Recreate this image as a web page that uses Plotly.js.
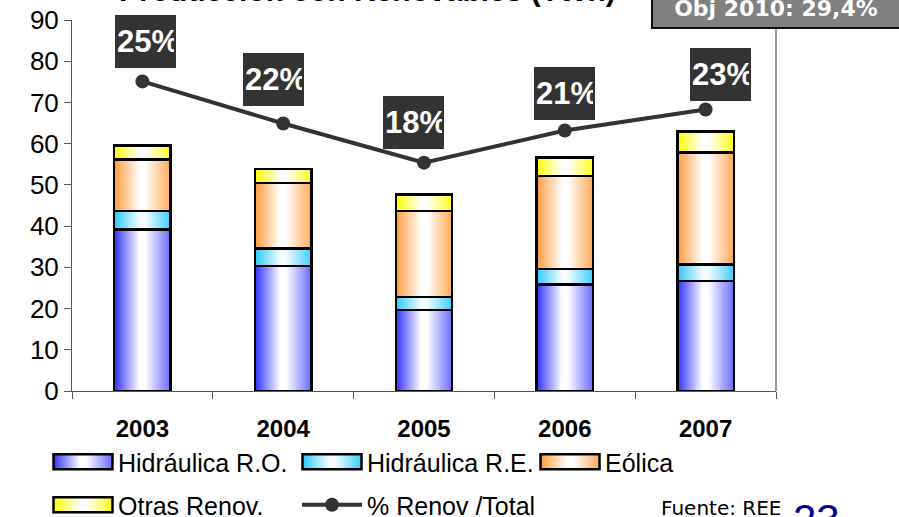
<!DOCTYPE html>
<html>
<head>
<meta charset="utf-8">
<script src="https://cdn.plot.ly/plotly-3.0.1.min.js"></script>
<style>
  body { margin: 0; background: #fff; }
  #chart { width: 899px; height: 517px; }
</style>
</head>
<body>
<div id="chart"></div>
<script>
// years on the x axis
let years = ["2003", "2004", "2005", "2006", "2007"];

// stacked series (TWh)
let hidroRO = [39.2, 30.3, 19.6, 25.8, 26.7];
let hidroRE = [4.5, 4.3, 3.2, 3.8, 4.0];
let eolica = [12.5, 15.9, 20.9, 22.5, 27.2];
let otras = [3.4, 3.4, 4.0, 4.6, 5.0];

// line series, drawn on the same 0-90 scale
let renovTotal = [75.1, 64.9, 55.4, 63.2, 68.3];
let renovPct = ["25%", "22%", "18%", "21%", "23%"];

// y axis ticks
let yTicks = [0, 10, 20, 30, 40, 50, 60, 70, 80, 90];

// gradient colours for each bar series: left edge, centre, right edge
let gradients = [
    ["#2f2fff", "#ffffff", "#6a6aff"],
    ["#2ec8ff", "#f4fcff", "#3ccfff"],
    ["#ff9a3c", "#ffffff", "#ffa95a"],
    ["#ffff00", "#ffffff", "#ffff20"]
];

// helper for one stacked bar trace
function barTrace(name, values, legend)
{
    return {
        x: years,
        y: values,
        name: name,
        type: "bar",
        width: 0.4,
        legend: legend,
        marker: { color: "#cccccc", line: { color: "#000000", width: 2.5 } },
        hoverinfo: "skip"
    };
}

let traces = [
    barTrace("Hidráulica R.O.", hidroRO, "legend"),
    barTrace("Hidráulica R.E.", hidroRE, "legend"),
    barTrace("Eólica", eolica, "legend3"),
    barTrace("Otras Renov.", otras, "legend2"),
    {
        x: years,
        y: renovTotal,
        name: "% Renov /Total",
        type: "scatter",
        mode: "lines+markers",
        legend: "legend2",
        line: { color: "#333333", width: 4 },
        marker: { color: "#333333", size: 14 },
        hoverinfo: "skip"
    }
];

// offsets of the dark percentage boxes from their points (px)
let boxShift = [[3, 40], [-10, 44], [-11, 40], [0, 37], [15, 35]];

// category axis: annotations use the category index
let pctBoxes = years.map((yr, i) => ({
    x: i,
    y: renovTotal[i],
    xref: "x",
    yref: "y",
    text: "<b>" + renovPct[i] + "</b>",
    showarrow: false,
    xshift: boxShift[i][0],
    yshift: boxShift[i][1],
    width: 57,
    height: 49,
    align: "left",
    valign: "middle",
    bgcolor: "#333333",
    borderwidth: 0,
    borderpad: 2,
    font: { family: "Liberation Sans, Arial, sans-serif", size: 31, color: "#ffffff" }
}));

let extraText = [
    // title, mostly cut off by the top edge
    {
        xref: "paper", yref: "paper",
        x: 0.42, y: (391 - 6.5) / 371,
        xanchor: "center", yanchor: "bottom",
        text: "<b>Producción con Renovables (TWh)</b>",
        showarrow: false, borderpad: 0, borderwidth: 0,
        font: { family: "Liberation Sans, Arial, sans-serif", size: 30, color: "#000000" }
    },
    // objective box
    {
        xref: "paper", yref: "paper",
        x: 1, y: (391 - 29) / 371,
        xanchor: "center", yanchor: "bottom",
        width: 246, height: 38,
        text: "<b>Obj 2010: 29,4%</b>",
        showarrow: false,
        bgcolor: "#808080", bordercolor: "#111111", borderwidth: 2, borderpad: 0,
        font: { family: "DejaVu Sans, Verdana, sans-serif", size: 22, color: "#ffffff" }
    },
    // source
    {
        xref: "paper", yref: "paper",
        x: (659 - 72) / 704, y: (391 - 508) / 371,
        xanchor: "left", yanchor: "middle",
        text: "Fuente: REE",
        showarrow: false,
        font: { family: "DejaVu Sans, Verdana, sans-serif", size: 20, color: "#000000" }
    },
    // page number
    {
        xref: "paper", yref: "paper",
        x: (792 - 72) / 704, y: (391 - 495) / 371,
        xanchor: "left", yanchor: "top",
        text: "23",
        showarrow: false, borderpad: 0,
        font: { family: "Liberation Sans, Arial, sans-serif", size: 42, color: "#00008b" }
    }
];

// one legend row: placed against the whole page so it doesn't push the margins
function legendRow(xPx, yPx)
{
    return {
        orientation: "h",
        xref: "container", yref: "container",
        x: xPx / 899, y: (517 - yPx) / 517,
        xanchor: "left", yanchor: "middle",
        entrywidth: 174, entrywidthmode: "pixels",
        itemwidth: 60,
        traceorder: "normal",
        font: { family: "Liberation Sans, Arial, sans-serif", size: 25, color: "#000000" },
        bgcolor: "rgba(0,0,0,0)"
    };
}

let layout = {
    width: 899,
    height: 517,
    margin: { l: 72, r: 123, t: 20, b: 126, autoexpand: false },
    paper_bgcolor: "#ffffff",
    plot_bgcolor: "#ffffff",
    barmode: "stack",
    showlegend: true,
    font: { family: "Liberation Sans, Arial, sans-serif", color: "#000000" },
    xaxis: {
        type: "category",
        showgrid: false,
        showline: true,
        linecolor: "#555555",
        linewidth: 1,
        ticks: "outside",
        tickson: "boundaries",
        ticklen: 7,
        tickcolor: "#555555",
        tickangle: 0,
        ticklabelstandoff: 16,
        automargin: false,
        tickfont: { family: "Liberation Sans, Arial, sans-serif", size: 24, weight: "bold", color: "#000000" },
        fixedrange: true
    },
    yaxis: {
        range: [0, 90],
        tickvals: yTicks,
        showgrid: false,
        zeroline: false,
        showline: true,
        linecolor: "#555555",
        linewidth: 1,
        ticks: "outside",
        ticklen: 7,
        tickcolor: "#555555",
        automargin: false,
        tickfont: { family: "Liberation Sans, Arial, sans-serif", size: 26, color: "#000000" },
        fixedrange: true
    },
    legend: legendRow(48, 462),
    legend3: legendRow(535, 462),
    legend2: legendRow(48, 505),
    shapes: [
        // right edge of the plot area, running up into the objective box
        { type: "line", xref: "paper", yref: "paper", x0: 1, x1: 1, y0: 0, y1: 1.06,
          line: { color: "#333333", width: 1 } }
    ],
    annotations: pctBoxes.concat(extraText)
};

// paint the bars with left-to-right gradients after plotting
function paintGradients(gd)
{
    let svg = gd.querySelector(".main-svg");
    if (!document.getElementById("grad0"))
    {
        let ns = "http://www.w3.org/2000/svg";
        let defs = document.createElementNS(ns, "defs");
        gradients.forEach((g, i) => {
            let lg = document.createElementNS(ns, "linearGradient");
            lg.setAttribute("id", "grad" + i);
            lg.setAttribute("x1", "0");
            lg.setAttribute("x2", "1");
            lg.setAttribute("y1", "0");
            lg.setAttribute("y2", "0");
            [[0, g[0]], [0.45, g[1]], [0.55, g[1]], [1, g[2]]].forEach(s => {
                let stop = document.createElementNS(ns, "stop");
                stop.setAttribute("offset", s[0]);
                stop.setAttribute("stop-color", s[1]);
                lg.appendChild(stop);
            });
            defs.appendChild(lg);
        });
        svg.insertBefore(defs, svg.firstChild);
    }

    // bars in the plot
    gd.querySelectorAll(".barlayer .trace").forEach(tr => {
        let idx = tr.__data__[0].trace.index;
        tr.querySelectorAll("path").forEach(p => { p.style.fill = "url(#grad" + idx + ")"; });
    });

    // legend swatches (all legends): wider, flatter boxes with the same gradient
    gd.querySelectorAll(".legend .traces, .legend2 .traces, .legend3 .traces").forEach(tr => {
        let idx = tr.__data__[0].trace.index;
        if (idx > 3) return;
        tr.querySelectorAll(".legendpoints path").forEach(p => {
            p.setAttribute("d", "M-29.5,7.5H29.5V-7.5H-29.5Z");
            p.style.fill = "url(#grad" + idx + ")";
            p.style.stroke = "#000000";
            p.style.strokeWidth = "2.5px";
        });
    });
}

let gd = document.getElementById("chart");
Plotly.newPlot(gd, traces, layout, { displayModeBar: false, staticPlot: true })
    .then(() => paintGradients(gd));
</script>
</body>
</html>
